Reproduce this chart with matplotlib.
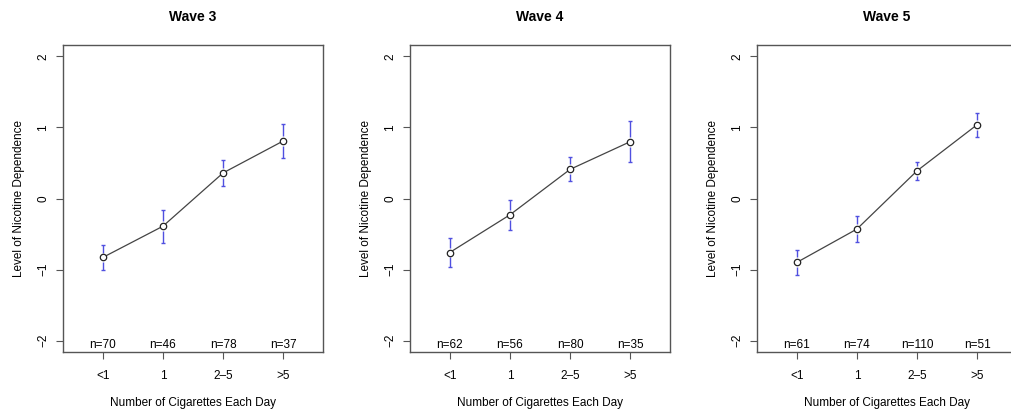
import matplotlib.pyplot as plt
import numpy as np

plt.rcParams['font.family'] = ['Liberation Sans', 'DejaVu Sans']

categories = ['<1', '1', '2\u20135', '>5']
waves = ['Wave 3', 'Wave 4', 'Wave 5']

means_w3 = [-0.83, -0.39, 0.36, 0.81]
means_w4 = [-0.76, -0.23, 0.41, 0.80]
means_w5 = [-0.90, -0.43, 0.39, 1.04]

err_w3 = [0.17, 0.23, 0.18, 0.24]
err_w4 = [0.20, 0.21, 0.17, 0.29]
err_w5 = [0.18, 0.18, 0.13, 0.17]

n_w3 = [70, 46, 78, 37]
n_w4 = [62, 56, 80, 35]
n_w5 = [61, 74, 110, 51]

all_means = [means_w3, means_w4, means_w5]
all_errs = [err_w3, err_w4, err_w5]
all_n = [n_w3, n_w4, n_w5]

W, H = 1011, 416
fig = plt.figure(figsize=(W / 100, H / 100), dpi=100)

lefts = [63, 410, 757]
ax_w = 260
top, bottom = 45, 352

spine_col = '#555555'
blue = '#5050e0'

for i in range(3):
    l = lefts[i]
    ax = fig.add_axes([l / W, 1 - bottom / H, ax_w / W, (bottom - top) / H])
    x = np.arange(1, 5)
    m = np.array(all_means[i])
    e = np.array(all_errs[i])
    gap = 0.07

    # error bars drawn apart from the point, R style
    ax.vlines(x, m + gap, m + e, color=blue, lw=1.0, zorder=2)
    ax.vlines(x, m - e, m - gap, color=blue, lw=1.0, zorder=2)
    ax.scatter(x, m + e, marker='_', s=10, color=blue, lw=1.0, zorder=2)
    ax.scatter(x, m - e, marker='_', s=10, color=blue, lw=1.0, zorder=2)

    ax.plot(x, m, color='#444444', lw=0.9, marker='o', ms=4.6,
            mfc='white', mec='#222222', mew=0.9, zorder=3)

    for xi, n in zip(x, all_n[i]):
        ax.text(xi, -2.06, f'n={n}', ha='center', va='center', fontsize=8.5)

    ax.set_xlim(0.34, 4.66)
    ax.set_ylim(-2.16, 2.16)
    ax.set_xticks(x)
    ax.set_xticklabels(categories)
    ax.set_yticks([-2, -1, 0, 1, 2])
    ax.set_yticklabels(['\u22122', '\u22121', '0', '1', '2'], rotation=90, va='center')
    ax.tick_params(axis='x', direction='out', length=5, width=0.8, color=spine_col,
                   labelsize=8.5, pad=8)
    ax.tick_params(axis='y', direction='out', length=5, width=0.8, color=spine_col,
                   labelsize=8.5, pad=5)
    for s in ax.spines.values():
        s.set_color(spine_col)
        s.set_linewidth(1.0)

    ax.set_title(waves[i], fontsize=10, fontweight='bold', pad=17)
    ax.set_xlabel('Number of Cigarettes Each Day', fontsize=8.5, labelpad=11)
    ax.set_ylabel('Level of Nicotine Dependence', fontsize=8.5, labelpad=9)

fig.savefig('out.png', dpi=100, facecolor='white')
